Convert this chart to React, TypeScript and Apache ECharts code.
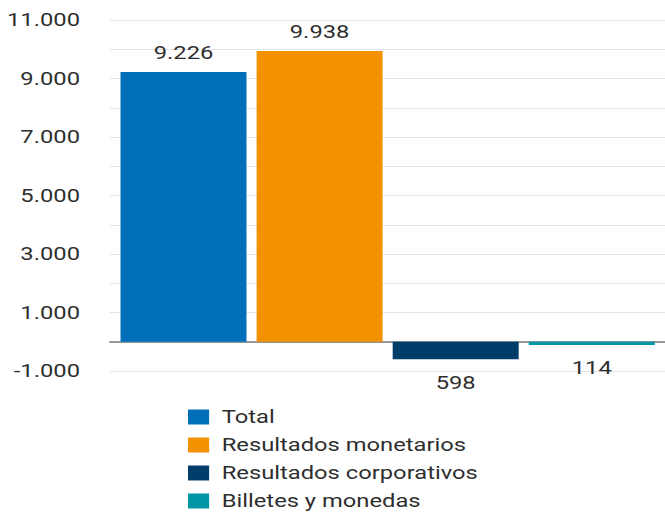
import React, { useEffect, useRef } from "react";
import * as echarts from "echarts";

const categories = [""];
const seriesNames = ["Total", "Resultados monetarios", "Resultados corporativos", "Billetes y monedas"];
const seriesValues = [9226, 9938, -598, -114];
const seriesColors = ["#006fb9", "#f39200", "#003d6b", "#0096a5"];
const yMin = -1000;
const yMax = 11000;
const yStep = 1000;

const SX = 1.32; // horizontal stretch of the reference picture
const W = 665 / SX;

function fmt(v: number): string {
  const s = Math.abs(Math.round(v)).toString();
  const out = s.replace(/\B(?=(\d{3})+(?!\d))/g, ".");
  return (v < 0 ? "-" : "") + out;
}

export default function App() {
  const ref = useRef<HTMLDivElement>(null);
  useEffect(() => {
    if (!ref.current) return;
    const chart = echarts.init(ref.current, undefined, { renderer: "svg" });
    const font = "Roboto";
    const txt = "#2e2e2e";
    chart.setOption({
      animation: false,
      textStyle: { fontFamily: font },
      grid: { left: 110 / SX, top: 20, width: 561 / SX, height: 351, containLabel: false },
      legend: {
        orient: "vertical",
        left: 188 / SX,
        top: 407,
        height: 200,
        padding: 0,
        itemWidth: 16,
        itemHeight: 15,
        itemGap: 8,
        icon: "rect",
        data: seriesNames,
        textStyle: { fontSize: 18, color: txt, fontFamily: font, padding: [0, 0, 0, 4.5], lineHeight: 20 },
      },
      xAxis: {
        type: "category",
        data: categories,
        axisLabel: { show: false },
        axisTick: { show: false },
        axisLine: { onZero: true, lineStyle: { color: "#7a7a7a", width: 1.5 } },
      },
      yAxis: {
        type: "value",
        min: yMin,
        max: yMax,
        interval: yStep,
        axisLine: { show: false },
        axisTick: { show: false },
        splitLine: { lineStyle: { color: "#e4e4e4", width: 1 } },
        axisLabel: {
          margin: 30 / SX,
          fontSize: 18,
          color: txt,
          fontFamily: font,
          formatter: (v: number) => (Math.round(v / 1000) % 2 !== 0 ? fmt(v) : ""),
        },
      },
      series: seriesNames.map((name, i) => ({
        name,
        type: "bar",
        barWidth: 126 / SX,
        barGap: "8%",
        itemStyle: { color: seriesColors[i] },
        data: [
          {
            value: seriesValues[i],
            label: {
              show: true,
              position: seriesValues[i] >= 0 ? "top" : "bottom",
              distance: seriesValues[i] >= 0 ? 10 : 14,
              fontSize: 18,
              color: txt,
              fontFamily: font,
              formatter: () => fmt(Math.abs(seriesValues[i])),
            },
          },
        ],
      })),
    });
    return () => chart.dispose();
  }, []);
  return (
    <div style={{ position: "fixed", left: 0, top: 0, width: 665, height: 512, background: "#fff", overflow: "hidden" }}>
      <div
        ref={ref}
        style={{
          width: W,
          height: 512,
          transform: `scaleX(${SX})`,
          transformOrigin: "0 0",
        }}
      />
    </div>
  );
}
